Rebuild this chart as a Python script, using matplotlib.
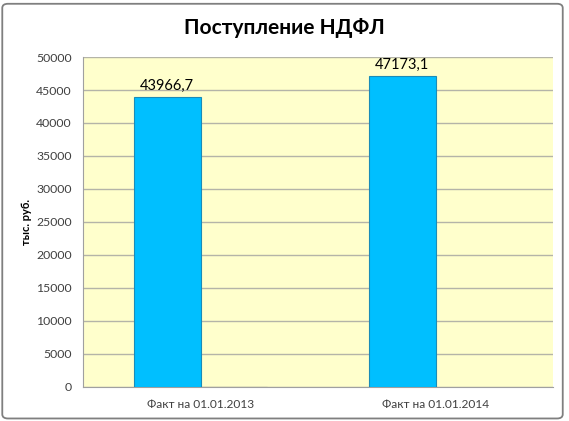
import numpy as np
import matplotlib
matplotlib.use('Agg')
import matplotlib.pyplot as plt
from matplotlib.patches import FancyBboxPatch

plt.rcParams['font.family'] = ['Lato', 'DejaVu Sans']

categories = ['Факт на 01.01.2013', 'Факт на 01.01.2014']
fact = [43966.7, 47173.1]
second = [0.0, np.nan]
value_labels = ['43966,7', '47173,1']
yticks = list(range(0, 50001, 5000))

fig = plt.figure(figsize=(5.69, 4.21), dpi=100)
border = FancyBboxPatch((0.004, 0.006), 0.985, 0.985, boxstyle='round,pad=0,rounding_size=0.01',
                        transform=fig.transFigure, facecolor='white', edgecolor='#7F7F7F',
                        lw=1.3, zorder=-10)
fig.patches.append(border)

ax = fig.add_axes([0.1459, 0.0808, 0.8260, 0.7838])
ax.set_facecolor('#FFFFCC')

x = np.arange(len(categories))
w = 0.285
ax.bar(x - w / 2, fact, width=w, color='#00BFFF', edgecolor='#1A8CB8', linewidth=0.8, zorder=3)
ax.bar(x + w / 2, second, width=w, color='#00BFFF', edgecolor='#555555', linewidth=0.8, zorder=3)

for xi, v, lab in zip(x, fact, value_labels):
    ax.text(xi - w / 2, v + 600, lab, ha='center', va='bottom', fontsize=10.5, color='black')

ax.set_xlim(-0.5, 1.5)
ax.set_ylim(0, 50000)
ax.set_yticks(yticks)
ax.set_yticklabels([str(t) for t in yticks], fontsize=8.8, color='#404040')
ax.set_xticks(x)
ax.set_xticklabels(categories, fontsize=8.6, color='#404040')
ax.tick_params(axis='both', length=0)
ax.tick_params(axis='y', pad=8)
ax.tick_params(axis='x', pad=9)
ax.grid(axis='y', color='#B4B4A8', lw=1, zorder=0)
ax.set_axisbelow(True)
for side in ['top', 'right']:
    ax.spines[side].set_visible(False)
ax.spines['left'].set_color('#A0A0A0')
ax.spines['bottom'].set_color('#A0A0A0')

ax.set_ylabel('тыс. руб.', fontsize=8, fontweight='bold', labelpad=3)

fig.text(0.5, 0.933, 'Поступление НДФЛ', ha='center', va='center', fontsize=15, fontweight='bold')

fig.savefig('out.png', dpi=100)
